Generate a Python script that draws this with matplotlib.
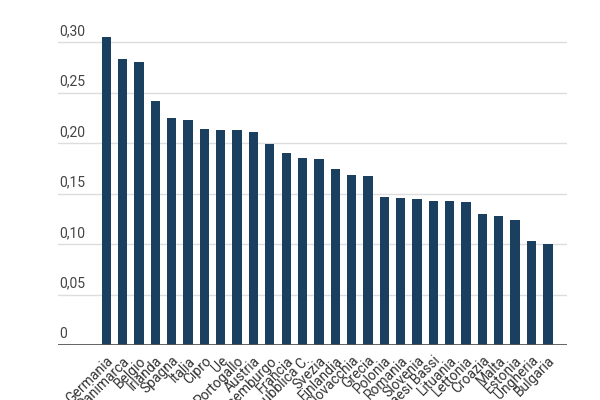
import matplotlib
matplotlib.use("Agg")
import matplotlib.pyplot as plt

countries = ["Germania", "Danimarca", "Belgio", "Irlanda", "Spagna", "Italia", "Cipro", "Ue",
             "Portogallo", "Austria", "Lussemburgo", "Francia", "Repubblica C.", "Svezia",
             "Finlandia", "Slovacchia", "Grecia", "Polonia", "Romania", "Slovenia",
             "Paesi Bassi", "Lituania", "Lettonia", "Croazia", "Malta", "Estonia",
             "Ungheria", "Bulgaria"]
values = [0.305, 0.283, 0.280, 0.242, 0.225, 0.223, 0.214, 0.213, 0.213, 0.211, 0.199,
          0.190, 0.185, 0.184, 0.175, 0.169, 0.168, 0.147, 0.146, 0.145, 0.143, 0.143,
          0.142, 0.130, 0.128, 0.124, 0.103, 0.100]
yticks = [0, 0.05, 0.10, 0.15, 0.20, 0.25, 0.30]
ytick_labels = ["0", "0,05", "0,10", "0,15", "0,20", "0,25", "0,30"]

plt.rcParams['font.family'] = ['Roboto', 'DejaVu Sans']

fig = plt.figure(figsize=(6, 4), dpi=100)
ax = fig.add_axes([0.0967, 0.1368, 0.848, 0.7828])

x = list(range(len(countries)))
ax.bar(x, values, width=0.57, color="#1b3f5e", zorder=3)

ax.set_xlim(-2.95, 28.16)
ax.set_ylim(0, 0.31)

for v in yticks[1:]:
    ax.axhline(v, color="#dddddd", linewidth=1, zorder=1)
ax.axhline(0, color="#555555", linewidth=2, zorder=4)

for v, lab in zip(yticks, ytick_labels):
    ax.annotate(lab, xy=(0, v), xycoords=ax.get_yaxis_transform(),
                xytext=(1, 3), textcoords="offset points",
                ha="left", va="bottom", fontsize=10, color="#444444")

ax.set_yticks([])
ax.set_xticks(x)
ax.set_xticklabels(countries, rotation=45, ha="right", va="top",
                   rotation_mode="anchor", fontsize=10, color="#333333")
ax.tick_params(axis="x", length=0, pad=6)
for s in ax.spines.values():
    s.set_visible(False)

fig.savefig("out.png", dpi=100)
